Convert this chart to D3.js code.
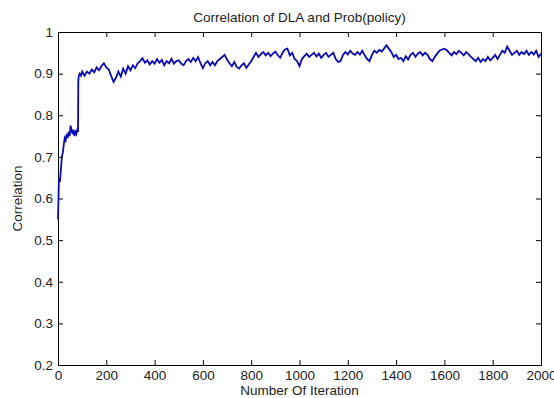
<!DOCTYPE html>
<html>
<head>
<meta charset="utf-8">
<script src="https://cdn.jsdelivr.net/npm/d3@7"></script>
<style>
  body { margin: 0; background: #fff; }
  text { font-family: "Liberation Sans", Arial, sans-serif; fill: #222; }
</style>
</head>
<body>
<div id="viz"></div>
<script>
// iteration numbers and correlation values
const iterations = [0, 2, 4, 8, 12, 16, 20, 24, 28, 32, 36, 40, 44, 48, 52, 56, 60, 64, 68, 72, 76, 80, 83, 84, 86, 90, 95, 100,
  110, 120, 130, 140, 150, 160, 170, 180, 190, 200,
  210, 220, 230, 240, 250, 260, 270, 280, 290, 300,
  310, 320, 330, 340, 350, 360, 370, 380, 390, 400,
  410, 420, 430, 440, 450, 460, 470, 480, 490, 500,
  510, 520, 530, 540, 550, 560, 570, 580, 590, 600,
  610, 620, 630, 640, 650, 660, 670, 680, 690, 700,
  710, 720, 730, 740, 750, 760, 770, 780, 790, 800,
  810, 820, 830, 840, 850, 860, 870, 880, 890, 900,
  910, 920, 930, 940, 950, 960, 970, 980, 990, 1000,
  1010, 1020, 1030, 1040, 1050, 1060, 1070, 1080, 1090, 1100,
  1110, 1120, 1130, 1140, 1150, 1160, 1170, 1180, 1190, 1200,
  1210, 1220, 1230, 1240, 1250, 1260, 1270, 1280, 1290, 1300,
  1310, 1320, 1330, 1340, 1350, 1360, 1370, 1380, 1390, 1400,
  1410, 1420, 1430, 1440, 1450, 1460, 1470, 1480, 1490, 1500,
  1510, 1520, 1530, 1540, 1550, 1560, 1570, 1580, 1590, 1600,
  1610, 1620, 1630, 1640, 1650, 1660, 1670, 1680, 1690, 1700,
  1710, 1720, 1730, 1740, 1750, 1760, 1770, 1780, 1790, 1800,
  1810, 1820, 1830, 1840, 1850, 1860, 1870, 1880, 1890, 1900,
  1910, 1920, 1930, 1940, 1950, 1960, 1970, 1980, 1990, 2000]

const correlation = [0.55, 0.60, 0.65, 0.64, 0.67, 0.70, 0.71, 0.73, 0.745, 0.74, 0.755, 0.745, 0.76, 0.75, 0.775, 0.765, 0.755, 0.765, 0.75, 0.76, 0.755, 0.765, 0.76, 0.88, 0.895, 0.90, 0.895, 0.905,
  0.895, 0.905, 0.90, 0.91, 0.903, 0.915, 0.908, 0.918, 0.925, 0.915,
  0.91, 0.895, 0.88, 0.89, 0.905, 0.893, 0.912, 0.90, 0.918, 0.908,
  0.92, 0.913, 0.925, 0.93, 0.937, 0.926, 0.932, 0.922, 0.93, 0.924,
  0.935, 0.926, 0.933, 0.92, 0.93, 0.925, 0.936, 0.924, 0.93, 0.932,
  0.924, 0.92, 0.93, 0.935, 0.928, 0.938, 0.93, 0.94, 0.925, 0.913,
  0.925, 0.93, 0.92, 0.928, 0.92, 0.93, 0.935, 0.94, 0.945, 0.934,
  0.925, 0.918, 0.928, 0.916, 0.912, 0.92, 0.925, 0.914, 0.922, 0.93,
  0.94, 0.95, 0.94, 0.947, 0.952, 0.944, 0.95, 0.942, 0.948, 0.953,
  0.944, 0.938, 0.95, 0.958, 0.96, 0.944, 0.95, 0.935, 0.93, 0.918,
  0.935, 0.942, 0.948, 0.94, 0.945, 0.95, 0.941, 0.948, 0.938, 0.945,
  0.95, 0.94, 0.945, 0.95, 0.935, 0.928, 0.93, 0.945, 0.952, 0.946,
  0.955, 0.948, 0.945, 0.952, 0.946, 0.955, 0.944, 0.935, 0.93, 0.945,
  0.955, 0.95, 0.957, 0.953, 0.96, 0.968, 0.96, 0.952, 0.94, 0.945,
  0.935, 0.938, 0.93, 0.942, 0.934, 0.945, 0.95, 0.94, 0.948, 0.952,
  0.944, 0.95, 0.945, 0.935, 0.93, 0.94, 0.948, 0.955, 0.958, 0.96,
  0.956, 0.95, 0.944, 0.952, 0.947, 0.955, 0.95, 0.944, 0.952, 0.947,
  0.94, 0.935, 0.93, 0.938, 0.928, 0.935, 0.93, 0.94, 0.932, 0.938,
  0.945, 0.935, 0.945, 0.955, 0.95, 0.965, 0.955, 0.945, 0.95, 0.955,
  0.945, 0.952, 0.947, 0.955, 0.945, 0.952, 0.946, 0.955, 0.94, 0.948]

const xTicks = [0, 200, 400, 600, 800, 1000, 1200, 1400, 1600, 1800, 2000]
const yTicks = [0.2, 0.3, 0.4, 0.5, 0.6, 0.7, 0.8, 0.9, 1]

const width = 554
const height = 398
const margin = { top: 32, right: 13, bottom: 33, left: 58 }
const fontSize = "13.5px"

const svg = d3.select("#viz").append("svg")
  .attr("width", width)
  .attr("height", height)
  .style("background-color", "#fff")

const x = d3.scaleLinear().domain([0, 2000]).range([margin.left, width - margin.right])
const y = d3.scaleLinear().domain([0.2, 1]).range([height - margin.bottom, margin.top])

const tickLen = 5
const fmtY = d => d === 1 ? "1" : d3.format(".1f")(d)

// box axes, ticks pointing inward
svg.append("g")
  .attr("transform", `translate(0,${y(0.2)})`)
  .call(d3.axisBottom(x).tickValues(xTicks).tickSize(-tickLen).tickPadding(5).tickFormat(d3.format("d")))
svg.append("g")
  .attr("transform", `translate(0,${y(1)})`)
  .call(d3.axisTop(x).tickValues(xTicks).tickSize(-tickLen).tickFormat(""))
svg.append("g")
  .attr("transform", `translate(${x(0)},0)`)
  .call(d3.axisLeft(y).tickValues(yTicks).tickSize(-tickLen).tickPadding(5).tickFormat(fmtY))
svg.append("g")
  .attr("transform", `translate(${x(2000)},0)`)
  .call(d3.axisRight(y).tickValues(yTicks).tickSize(-tickLen).tickFormat(""))

svg.selectAll(".domain").attr("stroke", "#000").attr("stroke-width", 1)
svg.selectAll(".tick line").attr("stroke", "#000")
svg.selectAll(".tick text").style("font-size", fontSize).attr("fill", "#222")

const line = d3.line()
  .x((d, i) => x(iterations[i]))
  .y(d => y(d))

svg.append("path")
  .datum(correlation)
  .attr("d", line)
  .attr("fill", "none")
  .attr("stroke", "#0a0ab4")
  .attr("stroke-width", 1.8)
  .attr("stroke-linejoin", "miter")

svg.append("text")
  .attr("x", (x(0) + x(2000)) / 2)
  .attr("y", 22)
  .attr("text-anchor", "middle")
  .style("font-size", fontSize)
  .text("Correlation of DLA and Prob(policy)")

svg.append("text")
  .attr("x", (x(0) + x(2000)) / 2)
  .attr("y", 395)
  .attr("text-anchor", "middle")
  .style("font-size", fontSize)
  .text("Number Of Iteration")

svg.append("text")
  .attr("transform", `translate(22,${(y(0.2) + y(1)) / 2}) rotate(-90)`)
  .attr("text-anchor", "middle")
  .style("font-size", fontSize)
  .text("Correlation")
</script>
</body>
</html>
